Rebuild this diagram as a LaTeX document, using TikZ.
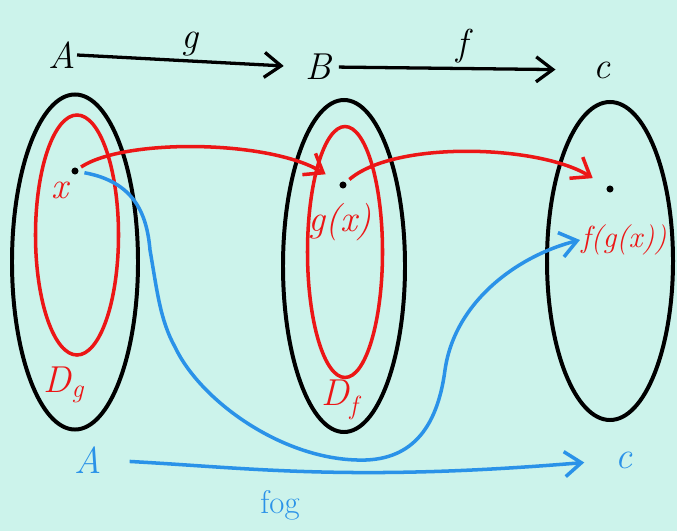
\documentclass[tikz,border=0pt]{standalone}
\usepackage{fontspec}
\usepackage{tikz}
\usetikzlibrary{arrows.meta,shapes.geometric}
\definecolor{BgCyan}{RGB}{204,243,235}
\definecolor{PenRed}{RGB}{236,22,22}
\definecolor{PenBlue}{RGB}{42,146,232}

\begin{document}
\begin{tikzpicture}[x=0.03cm,y=-0.03cm,>={Straight Barb[length=5mm,width=7.5mm]},
  setbox/.style={ellipse,draw=black,line width=3.4pt,inner sep=0pt},
  dombox/.style={ellipse,draw=PenRed,line width=3pt,inner sep=0pt},
  elem/.style={circle,fill=black,inner sep=0pt,minimum size=6pt},
  big/.style={font=\fontsize{32}{36}\selectfont\itshape,inner sep=1pt},
  redtxt/.style={big,text=PenRed},
  bluetxt/.style={big,text=PenBlue},
  maparrow/.style={->,line width=2.8pt},
  redarrow/.style={->,line width=3pt,PenRed},
  bluearrow/.style={->,line width=3pt,PenBlue}]
\fill[BgCyan] (0,0) rectangle (677,531);
\useasboundingbox (0,0) rectangle (677,531);
% the three sets and the domains
\node[setbox,minimum width=3.78cm,minimum height=10.05cm] (setA) at (75,262){};
\node[dombox,minimum width=2.49cm,minimum height=7.2cm] (domg) at (77,235){};
\node[setbox,minimum width=3.66cm,minimum height=9.96cm] (setB) at (344,266){};
\node[dombox,minimum width=2.25cm,minimum height=7.53cm] (domf) at (345,252){};
\node[setbox,minimum width=3.78cm,minimum height=9.54cm] (setC) at (610,261){};
% top row
\node[big] (A) at (62,55){A};
\node[big] (B) at (318,67){B};
\node[big] (C) at (602,70){c};
\draw[maparrow,shorten >=6mm] (A.east) -- (B.west) node[big,midway,above=2pt]{g};
\draw[maparrow,shorten <=2mm,shorten >=11mm] (B.east) -- (C.west) node[big,midway,above=2pt]{f};
% elements
\node[elem] (x) at (75,171){};
\node[elem] (gx) at (343,185){};
\node[elem] (fgx) at (610,189){};
\node[redtxt] at (60,190){x};
\node[redtxt] at (340,222){g(x)};
\node[redtxt,font=\fontsize{26}{30}\selectfont\itshape] (fglbl) at (624,240){f(g(x))};
\node[redtxt] at (64,385){D\textsubscript{g}};
\node[redtxt] at (340,400){D\textsubscript{f}};
\draw[redarrow,shorten <=3pt,shorten >=5mm] (x) .. controls (125,138) and (270,140) .. (gx);
\draw[redarrow,shorten <=4pt,shorten >=5mm] (gx) .. controls (395,140) and (540,145) .. (fgx);
% composite
\draw[bluearrow,shorten <=5pt] (x) .. controls (135,182) and (147,215) .. (150,250)
  .. controls (157,290) and (160,320) .. (175,347)
  .. controls (200,400) and (280,458) .. (357,460)
  .. controls (410,462) and (437,430) .. (445,370)
  .. controls (455,300) and (520,255) .. (fglbl.west);
\node[bluetxt] (A2) at (88,460){A};
\node[bluetxt] (C2) at (624,460){c};
\draw[bluearrow,shorten <=8mm,shorten >=9mm] (A2.east) .. controls (250,468) and (350,482) .. (C2.west);
\node[bluetxt,font=\fontsize{28}{32}\selectfont] at (280,505){fog};
\end{tikzpicture}
\end{document}
